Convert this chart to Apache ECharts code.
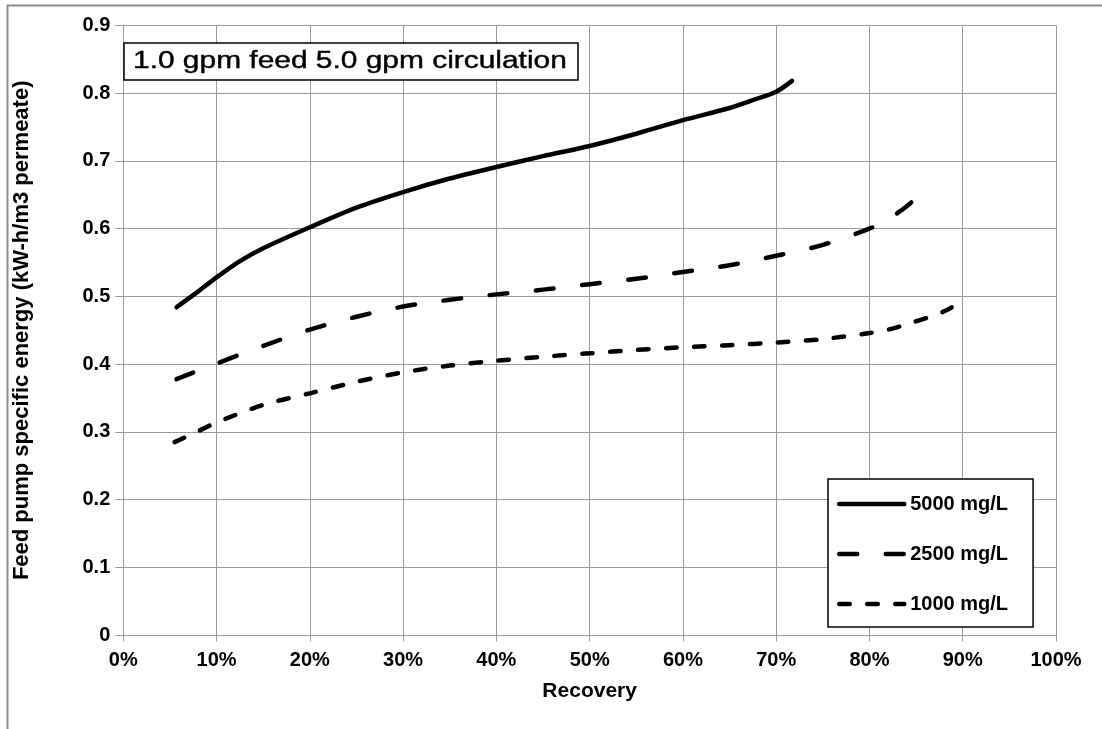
<!DOCTYPE html>
<html>
<head>
<meta charset="utf-8">
<script src="https://cdn.jsdelivr.net/npm/echarts@6/dist/echarts.min.js"></script>
<style>
html,body{margin:0;padding:0;background:#fff;}
#chart{width:1102px;height:729px;}
</style>
</head>
<body>
<div id="chart"></div>
<script>
const chartTitle = '1.0 gpm feed 5.0 gpm circulation';
const xAxisName = 'Recovery';
const yAxisName = 'Feed pump specific energy (kW-h/m3 permeate)';
const seriesNames = ['5000 mg/L', '2500 mg/L', '1000 mg/L'];

const recovery5000 = [5.7, 8, 10, 12.5, 15, 20, 25, 30, 35, 40, 45, 50, 55, 60, 65, 68, 70, 71.7];
const energy5000 = [0.484, 0.507, 0.528, 0.552, 0.571, 0.602, 0.631, 0.654, 0.674, 0.691, 0.707, 0.722, 0.740, 0.760, 0.778, 0.792, 0.802, 0.818];

const recovery2500 = [5.7, 10, 15, 20, 25, 30, 35, 40, 45, 50, 55, 60, 65, 70, 75, 80, 82, 84, 85.7];
const energy2500 = [0.378, 0.401, 0.427, 0.451, 0.470, 0.485, 0.495, 0.503, 0.510, 0.518, 0.526, 0.536, 0.546, 0.560, 0.576, 0.600, 0.614, 0.633, 0.655];

const recovery1000 = [5.5, 8, 10, 15, 20, 25, 30, 35, 40, 45, 50, 55, 60, 65, 70, 75, 80, 82, 84, 86.5, 88, 89.5];
const energy1000 = [0.285, 0.301, 0.314, 0.340, 0.357, 0.374, 0.388, 0.398, 0.405, 0.411, 0.416, 0.421, 0.425, 0.428, 0.432, 0.437, 0.446, 0.451, 0.459, 0.470, 0.478, 0.489];

const xTicks = {min: 0, max: 100, interval: 10};
const yTicks = {min: 0, max: 0.9, interval: 0.1};

function zip(xs, ys) { return xs.map((x, i) => [x, ys[i]]); }

const FONT = '"Liberation Sans", Arial, sans-serif';
const GRID = '#9a9a9a';
const LINE_W = 4.5;
const dashTypes = ['solid', [18, 28.5], [10.5, 17.5]];

const chart = echarts.init(document.getElementById('chart'), null, {renderer: 'canvas'});

function mkSeries(name, xs, ys, type) {
  return {
    name: name,
    type: 'line',
    data: zip(xs, ys),
    symbol: 'none',
    smooth: 0.3,
    lineStyle: {color: '#000', width: LINE_W, type: type, cap: 'round', join: 'round'},
    itemStyle: {color: '#000'},
    z: 5
  };
}

chart.setOption({
  animation: false,
  backgroundColor: '#fff',
  grid: {left: 123.3, right: 46, top: 25.3, bottom: 93.7, containLabel: false},
  xAxis: {
    type: 'value', min: xTicks.min, max: xTicks.max, interval: xTicks.interval,
    name: xAxisName, nameLocation: 'middle', nameGap: 45,
    nameTextStyle: {fontFamily: FONT, fontWeight: 'bold', fontSize: 21, color: '#000'},
    axisLine: {show: true, lineStyle: {color: GRID, width: 1}},
    axisTick: {show: true, length: 6, lineStyle: {color: GRID}},
    axisLabel: {formatter: '{value}%', margin: 15, fontFamily: FONT, fontWeight: 'bold', fontSize: 20, color: '#000'},
    splitLine: {show: true, lineStyle: {color: GRID, width: 1}}
  },
  yAxis: {
    type: 'value', min: yTicks.min, max: yTicks.max, interval: yTicks.interval,
    name: yAxisName, nameLocation: 'middle', nameGap: 90,
    nameTextStyle: {fontFamily: FONT, fontWeight: 'bold', fontSize: 22, color: '#000'},
    axisLine: {show: true, lineStyle: {color: GRID, width: 1}},
    axisTick: {show: true, length: 8, lineStyle: {color: GRID}},
    axisLabel: {margin: 13, fontFamily: FONT, fontWeight: 'bold', fontSize: 20, color: '#000'},
    splitLine: {show: true, lineStyle: {color: GRID, width: 1}}
  },
  legend: {
    orient: 'vertical',
    left: 828, top: 479,
    padding: [15, 25, 13, 9],
    itemGap: 30,
    itemWidth: 65, itemHeight: 16,
    backgroundColor: '#fff',
    borderColor: '#000', borderWidth: 1.5, borderRadius: 0,
    itemStyle: {color: 'rgba(0,0,0,0)', borderWidth: 0, opacity: 0},
    textStyle: {fontFamily: FONT, fontWeight: 'bold', fontSize: 20, color: '#000', padding: [0, 0, 0, 1]},
    data: seriesNames.map((n, i) => ({
      name: n,
      lineStyle: {color: '#000', width: LINE_W, type: dashTypes[i], cap: 'round', join: 'round'}
    }))
  },
  graphic: [
    {type: 'rect', left: 5, top: 3, shape: {width: 1200, height: 800}, style: {fill: 'none', stroke: '#8c8c8c', lineWidth: 2}, silent: true, z: 1},
    {type: 'rect', x: 124, y: 43, shape: {width: 454, height: 37}, style: {fill: '#fff', stroke: '#000', lineWidth: 1.5}, z: 10},
    {type: 'text', x: 133, y: 62, scaleX: 1.3, style: {text: chartTitle, font: '23px ' + FONT, fill: '#000', stroke: '#000', lineWidth: 0.4, textVerticalAlign: 'middle', verticalAlign: 'middle'}, z: 11}
  ],
  series: [
    mkSeries(seriesNames[0], recovery5000, energy5000, dashTypes[0]),
    mkSeries(seriesNames[1], recovery2500, energy2500, dashTypes[1]),
    mkSeries(seriesNames[2], recovery1000, energy1000, dashTypes[2])
  ]
});
</script>
</body>
</html>
